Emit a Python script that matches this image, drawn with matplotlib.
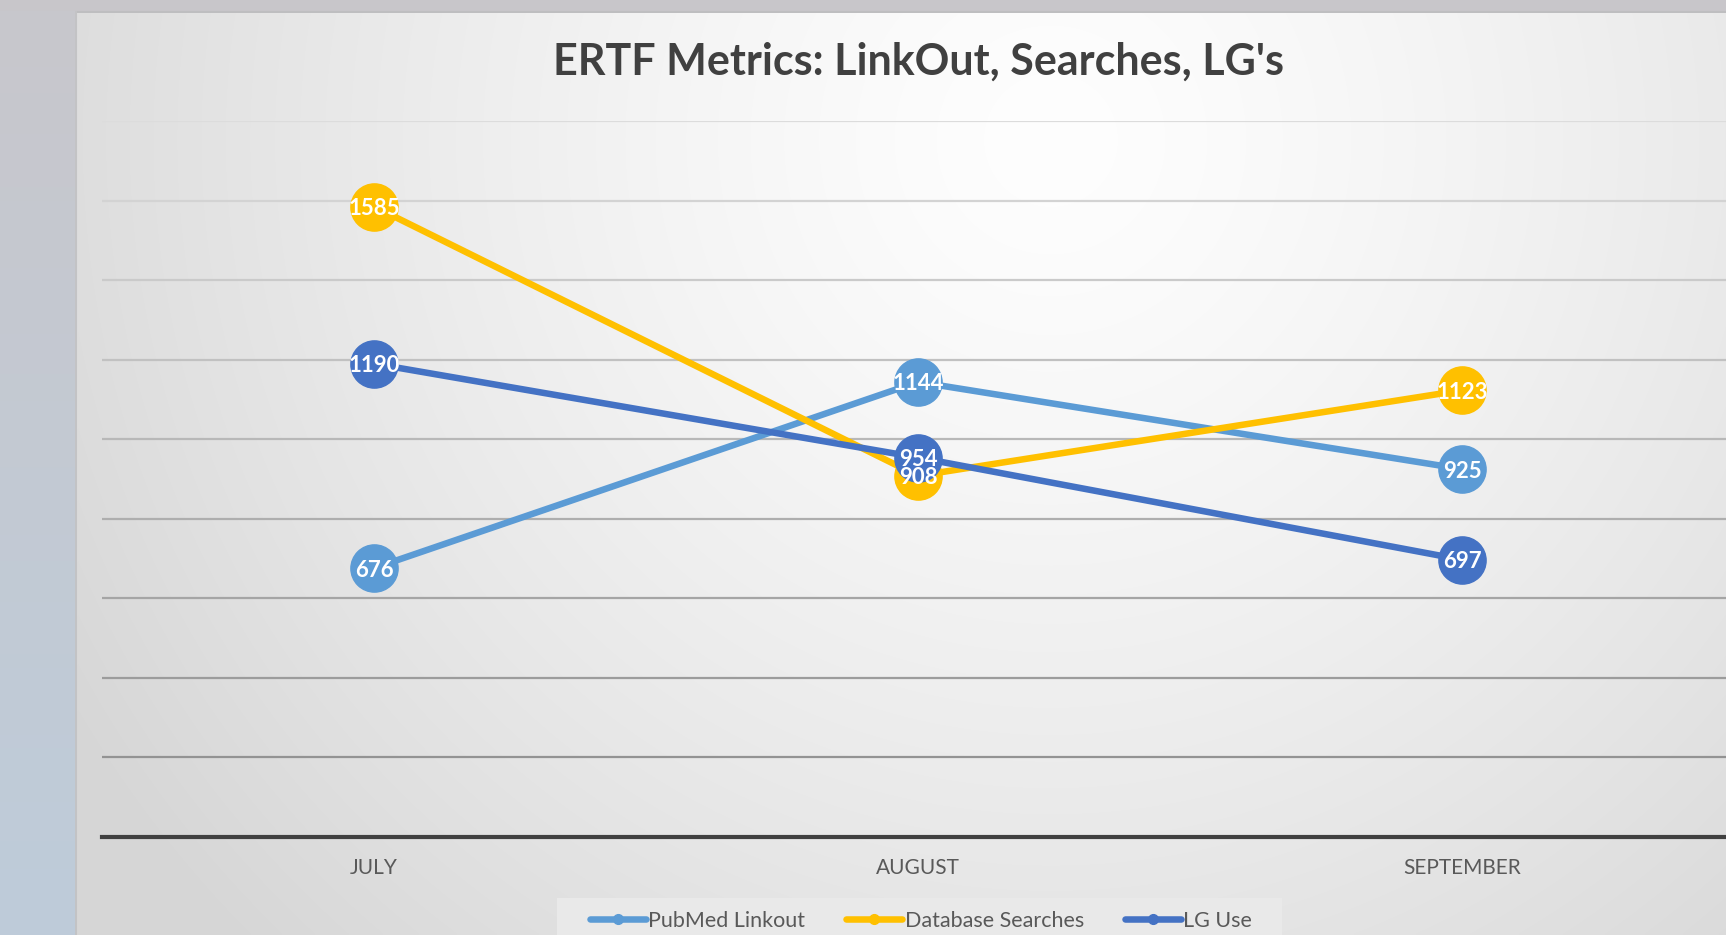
import matplotlib.pyplot as plt
from matplotlib.lines import Line2D
from matplotlib.patches import Rectangle
import numpy as np

# chart data
months = ['JULY', 'AUGUST', 'SEPTEMBER']
pubmed_linkout = [676, 1144, 925]
database_searches = [1585, 908, 1123]
lg_use = [1190, 954, 697]
series_names = ['PubMed Linkout', 'Database Searches', 'LG Use']
series_colors = ['#5B9BD5', '#FFC000', '#4472C4']
y_ticks = list(range(0, 2000, 200))

W, H = 1726, 935
fig = plt.figure(figsize=(W / 100, H / 100), dpi=100)

# background: window strips + radial gradient chart area
yy, xx = np.mgrid[0:H, 0:W]
d = np.hypot(xx - 1050, yy - 140) / 1150.0
shade = 254 - 40 * np.clip(d, 0, 1) ** 1.3
img = np.dstack([shade, shade, shade])
left = xx < 75
t = yy / H
img[left, 0] = (200 - 10 * t)[left]
img[left, 1] = (199 + 5 * t)[left]
img[left, 2] = (204 + 14 * t)[left]
img[yy < 11] = [200, 198, 202]
img[(yy >= 11) & (yy < 13) & (xx >= 75)] = [190, 190, 192]
img[(xx >= 75) & (xx < 77) & (yy >= 11)] = [195, 195, 197]
bg = fig.add_axes([0, 0, 1, 1], zorder=-10)
bg.imshow(img.astype(np.uint8), aspect='auto', interpolation='bilinear')
bg.axis('off')

ax = fig.add_axes([102 / W, 1 - 837 / H, 1632 / W, (837 - 121) / H])
ax.set_facecolor('none')
ax.set_xlim(-0.5, 2.5)
ax.set_ylim(0, 1800)
ax.set_yticks(y_ticks)
ax.set_yticklabels([])
ax.tick_params(axis='both', length=0)
x = np.arange(len(months))
ax.set_xticks(x)
ax.set_xticklabels(months, fontsize=15, color='#595959', family='Lato')
ax.tick_params(axis='x', pad=15)

for s in ['top', 'left', 'right']:
    ax.spines[s].set_visible(False)
ax.spines['bottom'].set_color('#404040')
ax.spines['bottom'].set_linewidth(3)

# gridlines get darker toward the bottom
for v in y_ticks[1:]:
    f = v / 1800
    g = (138 + (220 - 138) * f) / 255
    ax.axhline(v, color=(g, g, g), lw=1.6, zorder=0)

all_series = [pubmed_linkout, database_searches, lg_use]
for vals, c in zip(all_series, series_colors):
    ax.plot(x, vals, color=c, lw=4.7, marker='o', ms=34, zorder=3,
            solid_capstyle='round')
for vals in all_series:
    for xi, v in zip(x, vals):
        ax.text(xi, v, str(v), color='white', fontsize=16, fontweight='bold',
                family='Lato', ha='center', va='center_baseline', zorder=5)

fig.text(918 / W, 1 - 62 / H, "ERTF Metrics: LinkOut, Searches, LG's",
         ha='center', va='center', fontsize=31, fontweight='bold',
         color='#404040', family='Lato')

# legend box (runs off the bottom edge like the screenshot)
fig.patches.append(Rectangle((557 / W, 0), (1282 - 557) / W, 1 - 898 / H,
                             transform=fig.transFigure, facecolor='#e9e9e9',
                             edgecolor='none', zorder=-5))
handles = [Line2D([], [], color=c, lw=4.7, marker='o', ms=7,
                  solid_capstyle='round') for c in series_colors]
leg = fig.legend(handles, series_names, loc='center',
                 bbox_to_anchor=(921 / W, 1 - 921 / H), ncol=3, frameon=False,
                 handlelength=2.6, handletextpad=0.1, columnspacing=1.9,
                 borderpad=0, prop={'family': 'Lato', 'size': 15.5})
for t in leg.get_texts():
    t.set_color('#595959')

fig.savefig('out.png', dpi=100)
